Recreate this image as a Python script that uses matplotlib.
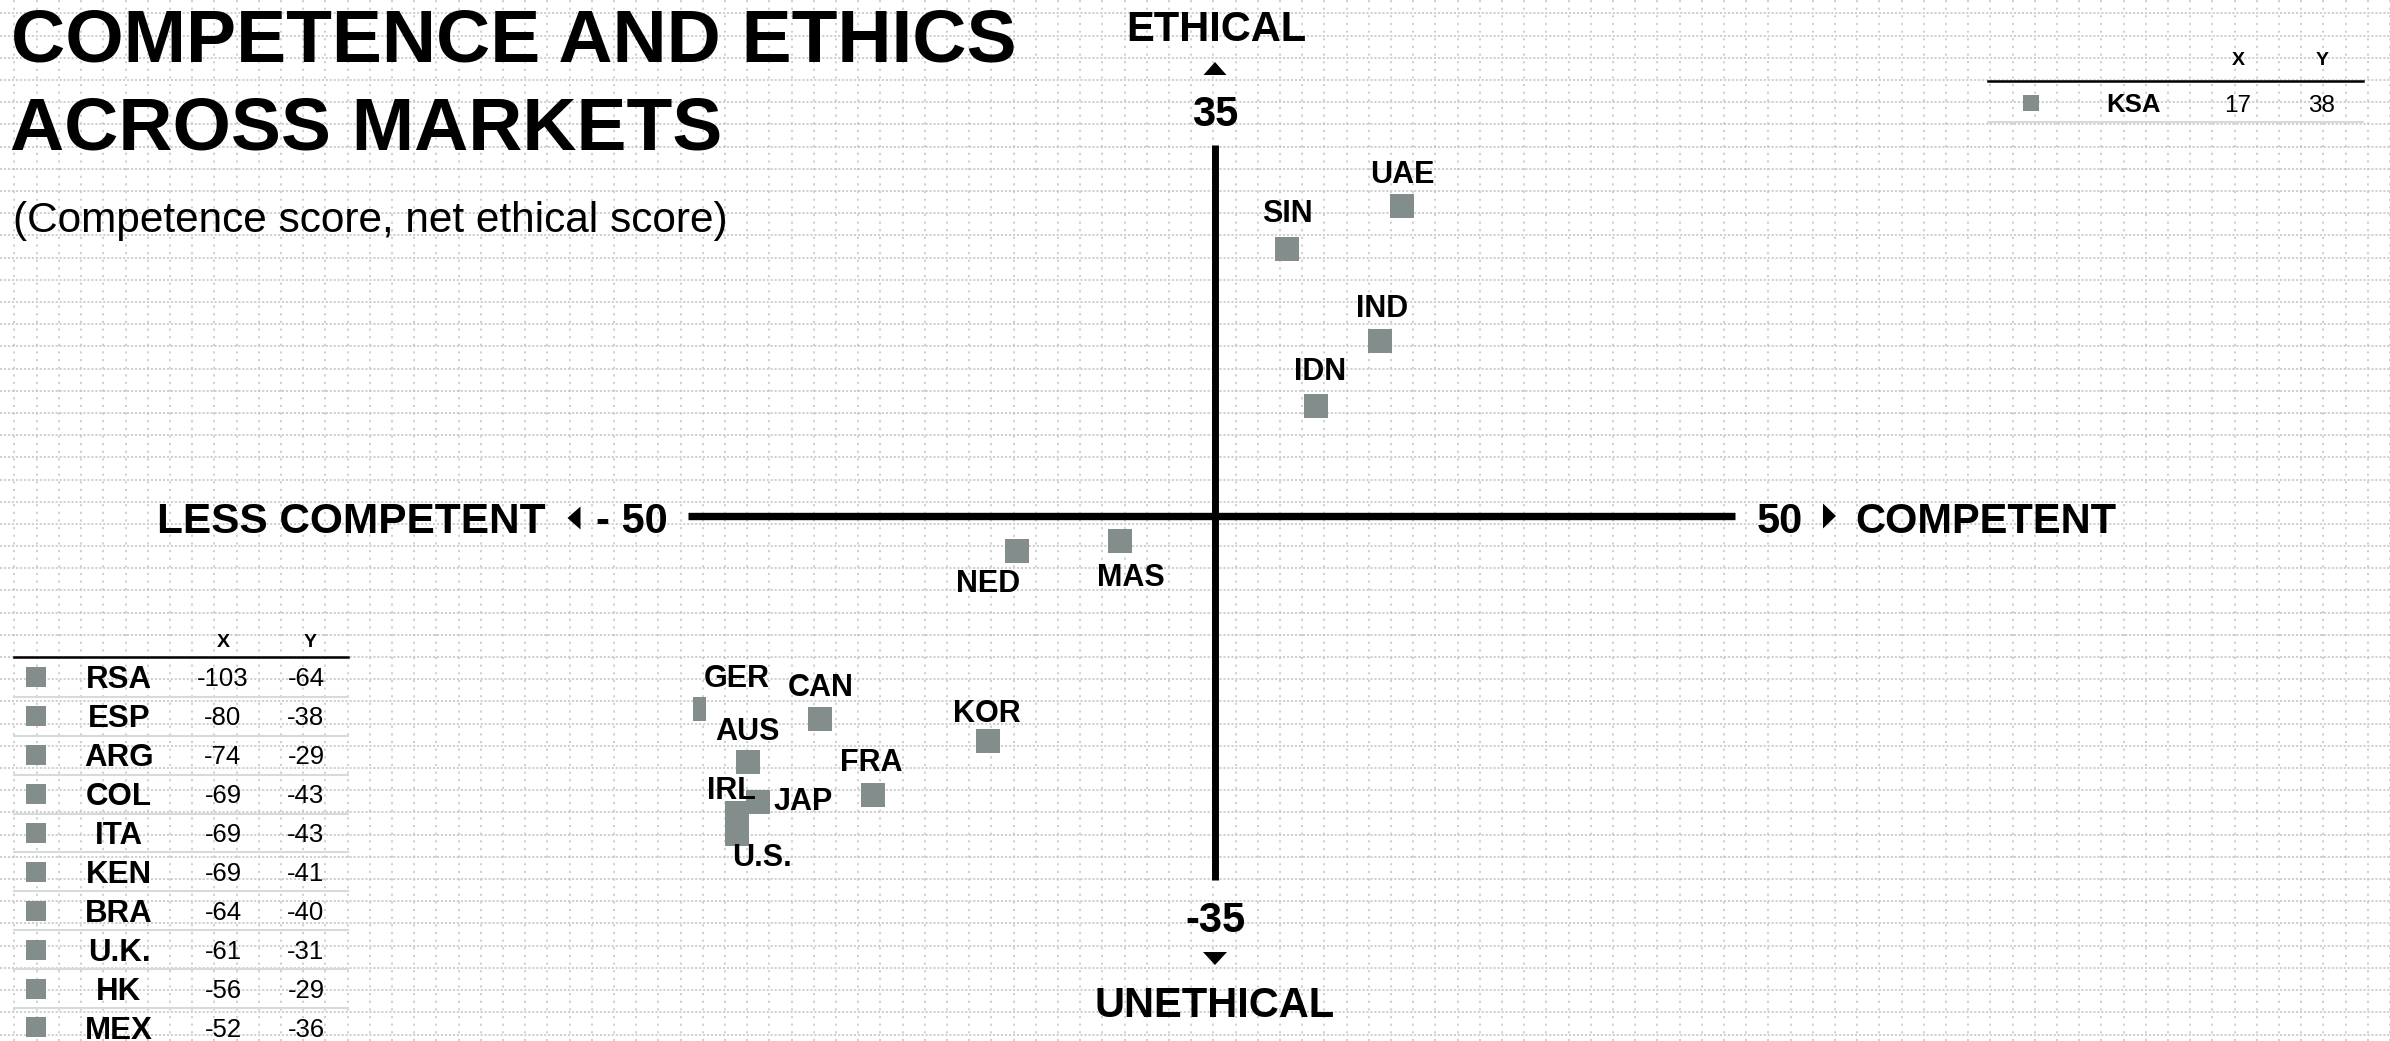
import numpy as np
import matplotlib.pyplot as plt
from matplotlib.patches import Polygon

plt.rcParams['font.family'] = ['Liberation Sans', 'DejaVu Sans']

# markets on the chart: competence score (x), net ethical score (y)
markets = ['UAE', 'SIN', 'IND', 'IDN', 'MAS', 'NED', 'KOR', 'FRA', 'CAN',
           'GER', 'AUS', 'JAP', 'IRL', 'U.S.']
competence = [17.9, 6.9, 15.8, 9.7, -9.1, -19.0, -21.7, -32.8, -37.8,
              -49.9, -44.7, -43.8, -45.8, -45.8]
ethics = [29.5, 25.4, 16.6, 10.5, -2.4, -3.3, -21.4, -26.5, -19.3,
          -18.4, -23.4, -27.2, -28.2, -30.2]

# markets off the chart, listed in side tables
low_names = ['RSA', 'ESP', 'ARG', 'COL', 'ITA', 'KEN', 'BRA', 'U.K.', 'HK', 'MEX']
low_x = [-103, -80, -74, -69, -69, -69, -64, -61, -56, -52]
low_y = [-64, -38, -29, -43, -43, -41, -40, -31, -29, -36]
high_names = ['KSA']
high_x = [17]
high_y = [38]

# label offsets from marker centre (pixels, right / down)
label_off = {'UAE': (0, -34), 'SIN': (0, -38), 'IND': (2, -35), 'IDN': (4, -37),
             'MAS': (11, 34), 'NED': (-29, 30), 'KOR': (-2, -30), 'FRA': (-1, -35),
             'CAN': (0, -34), 'GER': (43, -33), 'AUS': (-1, -33), 'JAP': (45, -3),
             'IRL': (-5, -24), 'U.S.': (25, 22)}

W, H = 2390, 1041
GREY = '#838d8c'
fig = plt.figure(figsize=(W / 100, H / 100), dpi=100)
fig.patch.set_facecolor('white')

# background: dotted paper grid, in pixel coordinates
bg = fig.add_axes([0, 0, 1, 1], zorder=0)
bg.set_xlim(0, W)
bg.set_ylim(H, 0)
bg.axis('off')
step = 22.2
bg.vlines(np.arange(14.5, W, step), 0, H, colors='#c2c2c2', lw=1.1,
          linestyles=[(0, (1.4, 3.6))], zorder=0)
bg.hlines(np.arange(13.3, H, step), 0, W, colors='#c2c2c2', lw=1.1,
          linestyles=[(0, (1.4, 1.2))], zorder=0)


def cap_text(x, y, s, size, weight='bold', ha='center'):
    # y is the vertical centre of the capitals
    base = y + 0.716 * size * 100 / 72 / 2
    bg.text(x, base, s, fontsize=size, fontweight=weight, ha=ha, va='baseline',
            color='black', zorder=3)


# title
bg.text(11, 61, 'COMPETENCE AND ETHICS', fontsize=54, fontweight='bold',
        va='baseline', ha='left')
bg.text(10, 150, 'ACROSS MARKETS', fontsize=54, fontweight='bold',
        va='baseline', ha='left')
bg.text(13, 232, '(Competence score, net ethical score)', fontsize=30.5,
        va='baseline', ha='left')

# axis end labels
cap_text(1216, 26, 'ETHICAL', 30)
cap_text(1215, 111, '35', 30)
cap_text(1215, 917, '-35', 30)
cap_text(1215, 1002, 'UNETHICAL', 30)
cap_text(546, 518, 'LESS COMPETENT', 30.5, ha='right')
cap_text(668, 518, '- 50', 30, ha='right')
cap_text(1757, 518, '50', 30, ha='left')
cap_text(1855, 518, 'COMPETENT', 30, ha='left')
for tri in ([[1203.5, 75], [1226.5, 75], [1215, 62]],
            [[1203, 952], [1227, 952], [1215, 965]],
            [[567.5, 518], [580.5, 506.5], [580.5, 529.5]],
            [[1836, 516], [1823, 503.5], [1823, 528.5]]):
    bg.add_patch(Polygon(tri, closed=True, color='black', lw=0, zorder=3))

# left table
bg.plot([14, 348], [657, 657], color='black', lw=1.8, zorder=2)
cap_text(223, 640, 'X', 14)
cap_text(310, 640, 'Y', 14)
for i, (n, xv, yv) in enumerate(zip(low_names, low_x, low_y)):
    ry = 677.3 + 38.9 * i
    bg.scatter([35.6], [ry], marker='s', s=13.7 ** 2, color=GREY, lw=0, zorder=3)
    cap_text(119, ry, n, 22.5)
    cap_text(223, ry, str(xv), 18.5, weight='normal')
    cap_text(306, ry, str(yv), 18.5, weight='normal')
    bg.plot([14, 348], [ry + 19.5, ry + 19.5], color='#d6dada', lw=1.5, zorder=2)

# right table
bg.plot([1988, 2363], [81, 81], color='black', lw=1.8, zorder=2)
cap_text(2238, 58, 'X', 14)
cap_text(2322, 58, 'Y', 14)
for i, (n, xv, yv) in enumerate(zip(high_names, high_x, high_y)):
    ry = 103 + 38.9 * i
    bg.scatter([2031], [ry], marker='s', s=11.8 ** 2, color=GREY, lw=0, zorder=3)
    cap_text(2134, ry, n, 18.5)
    cap_text(2238, ry, str(xv), 17.5, weight='normal')
    cap_text(2322, ry, str(yv), 17.5, weight='normal')
    bg.plot([1988, 2363], [ry + 19, ry + 19], color='#d6dada', lw=1.5, zorder=2)

# main quadrant chart
left, right, top, bottom = 693, 1737, 148, 884
ax = fig.add_axes([left / W, 1 - bottom / H, (right - left) / W, (bottom - top) / H],
                  zorder=1)
ax.set_xlim(-50, 50)
ax.set_ylim(-35, 35)
ax.axis('off')
ax.plot([-50.5, 49.8], [0, 0], color='black', lw=5.3, clip_on=False,
        solid_capstyle='butt', zorder=1)
ax.plot([0, 0], [-34.6, 35.3], color='black', lw=5.0, clip_on=False,
        solid_capstyle='butt', zorder=1)
ax.scatter(competence, ethics, marker='s', s=16.9 ** 2, color=GREY, lw=0, zorder=3)

cap_half = 0.716 * 22 * 100 / 72 / 2
for n, xv, yv in zip(markets, competence, ethics):
    dx, dy = label_off[n]
    ax.annotate(n, (xv, yv), xytext=(dx * 0.72, -(dy + cap_half) * 0.72),
                textcoords='offset points', ha='center', va='baseline',
                fontsize=22, fontweight='bold', color='black', zorder=4,
                annotation_clip=False)

fig.savefig('out.png', dpi=100, facecolor='white')
